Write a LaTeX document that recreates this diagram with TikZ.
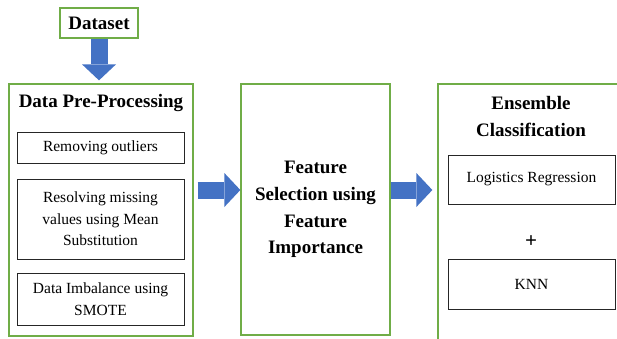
\documentclass[tikz,border=0pt]{standalone}
\usepackage{fontspec}
\setmainfont{Liberation Serif}
\usepackage{tikz}
\usetikzlibrary{arrows.meta}
\definecolor{boxgreen}{HTML}{70AD47}
\definecolor{arrowblue}{HTML}{4472C4}

\begin{document}
\begin{tikzpicture}[x=1pt,y=1pt,
  grnbox/.style={draw=boxgreen,line width=1.3pt,rectangle,inner sep=0pt},
  stepbox/.style n args={2}{draw=black!85,line width=0.9pt,rectangle,inner sep=0pt,minimum width=#1,minimum height=#2,align=center,font=\fontsize{15.5}{21.5}\selectfont},
  ttl/.style={align=center,font=\fontsize{19}{26.7}\selectfont\bfseries},
  blockarrow/.style={arrowblue,line width=17pt,-{Triangle[width=34pt,length=16pt,line width=0pt]}}]
\useasboundingbox (0,0) rectangle (617,-338);
\clip (0,0) rectangle (617,-338);

\node[grnbox,ttl,minimum width=78pt,minimum height=30pt] (ds) at (99,-23) {Dataset};

% pre-processing block
\node[grnbox,minimum width=184pt,minimum height=252pt] (pre) at (101,-210) {};
\node[ttl] (pretitle) at (101,-103) {Data Pre-Processing};
\node[stepbox={167pt}{31pt}] (outl) at (100.5,-147.5) {Removing outliers};
\node[stepbox={167pt}{80pt}] (miss) at (100.5,-219) {Resolving missing\\values using Mean\\Substitution};
\node[stepbox={167pt}{52pt}] (imb) at (100.5,-299) {Data Imbalance using\\SMOTE};

\node[grnbox,ttl,minimum width=149pt,minimum height=251pt] (fsel) at (315.5,-209.5) {Feature\\Selection using\\Feature\\Importance};

% classifier block
\node[grnbox,minimum width=212pt,minimum height=276pt] (ens) at (544,-222) {};
\node[ttl] (enstitle) at (531,-116.5) {Ensemble\\Classification};
\node[stepbox={167pt}{49pt}] (lr) at (531.5,-179.5) {Logistics Regression};
\node[font=\fontsize{21}{21}\selectfont\bfseries] (plus) at (531,-242) {+};
\node[stepbox={167pt}{50pt}] (knn) at (531.5,-284) {KNN};

\coordinate (row) at (0,-190);
\draw[blockarrow,shorten >=3pt] (ds.south) -- (ds.south |- pre.north);
\draw[blockarrow,shorten <=4pt] (pre.east |- row) -- (fsel.west |- row);
\draw[blockarrow,shorten >=5pt] (fsel.east |- row) -- (ens.west |- row);
\end{tikzpicture}
\end{document}
